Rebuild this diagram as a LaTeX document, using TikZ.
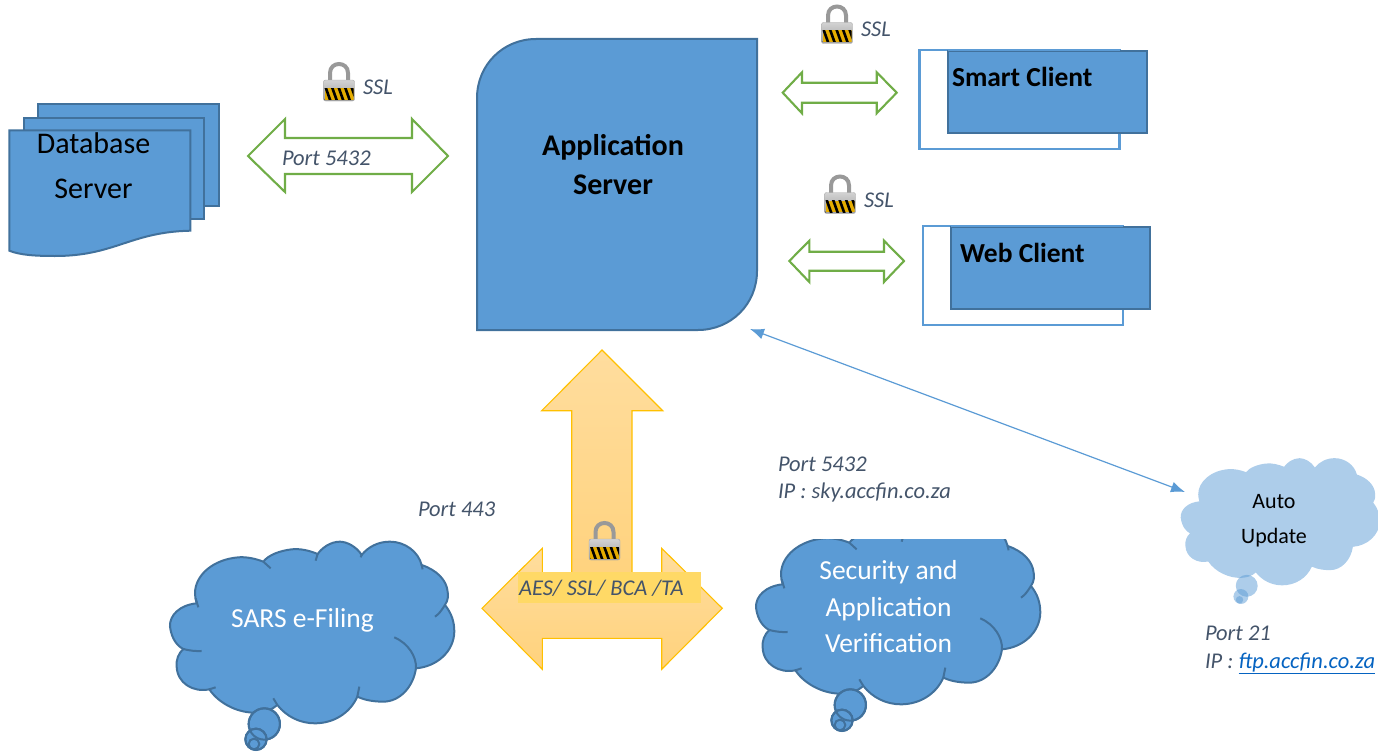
\documentclass[tikz,border=0pt]{standalone}
\usepackage{fontspec}
\setmainfont{Carlito}
\usetikzlibrary{arrows.meta}
\definecolor{boxblue}{HTML}{5B9BD5}
\definecolor{boxedge}{HTML}{41719C}
\definecolor{linkgreen}{HTML}{70AD47}
\definecolor{notegrey}{HTML}{44546A}
\definecolor{goldedge}{HTML}{FFC000}
\definecolor{goldtop}{HTML}{FFDD9E}
\definecolor{goldlow}{HTML}{FFD27C}
\definecolor{goldmark}{HTML}{FFD966}
\definecolor{linkblue}{HTML}{0563C1}
\tikzset{
  every node/.style={inner sep=0pt,outer sep=0pt},
  sheet/.style={draw=boxedge,fill=boxblue,line width=2pt},
  backbox/.style={draw=boxblue,fill=white,line width=2.2pt,minimum width=200pt,minimum height=99pt},
  frontbox/.style={draw=boxedge,fill=boxblue,line width=2.2pt,minimum width=199pt,minimum height=82pt},
  greenarrow/.style={draw=linkgreen,fill=white,line width=2.1pt,miter limit=10},
  goldarrow/.style={draw=goldedge,top color=goldtop,bottom color=goldlow,line width=1.1pt},
  note/.style={anchor=base west,text=notegrey,font=\fontsize{22.5}{27}\selectfont\itshape},
  clientname/.style={anchor=base west,font=\fontsize{27.5}{33}\selectfont\bfseries},
  darkcloud/.style={draw=boxedge,fill=boxblue,line width=2pt},
  palecloud/.style={fill=boxblue,fill opacity=.5,draw=none},
  thought/.pic={
    \path[pic actions] (140,250) .. controls (90,255) and (58,285) .. (60,320)
      .. controls (65,360) and (85,380) .. (100,387)
      .. controls (85,400) and (78,420) .. (80,440)
      .. controls (82,490) and (130,518) .. (178,508)
      .. controls (210,555) and (270,580) .. (320,578)
      .. controls (345,577) and (365,570) .. (382,555)
      .. controls (410,590) and (450,610) .. (495,610)
      .. controls (550,610) and (600,580) .. (622,530)
      .. controls (650,543) and (680,545) .. (700,545)
      .. controls (750,545) and (790,500) .. (798,445)
      .. controls (860,440) and (912,395) .. (913,335)
      .. controls (913,305) and (905,280) .. (885,255)
      .. controls (895,240) and (895,225) .. (893,215)
      .. controls (890,180) and (860,150) .. (815,135)
      .. controls (805,95) and (765,65) .. (720,65)
      .. controls (685,65) and (655,80) .. (635,105)
      .. controls (620,80) and (590,65) .. (570,65)
      .. controls (540,65) and (515,85) .. (503,102)
      .. controls (480,92) and (450,85) .. (425,88)
      .. controls (390,92) and (355,105) .. (340,125)
      .. controls (315,115) and (285,110) .. (265,112)
      .. controls (190,118) and (135,165) .. (135,220)
      .. controls (135,230) and (137,240) .. (140,250) -- cycle;
    \path[pic actions,fill=none] (137,235) -- (145,262);
    \path[pic actions,fill=none] (100,387) .. controls (118,392) and (138,394) .. (155,393);
    \path[pic actions,fill=none] (178,508) -- (197,502);
    \path[pic actions,fill=none] (382,555) -- (370,535);
    \path[pic actions,fill=none] (622,530) -- (628,500);
    \path[pic actions,fill=none] (798,445) .. controls (800,410) and (775,370) .. (733,352);
    \path[pic actions,fill=none] (885,255) .. controls (875,270) and (868,282) .. (855,290);
    \path[pic actions,fill=none] (815,135) -- (818,148);
    \path[pic actions,fill=none] (635,105) -- (632,112);
    \path[pic actions,fill=none] (503,102) -- (497,122);
    \path[pic actions,fill=none] (340,125) -- (362,145);
    \path[pic actions] (343,612) circle (47);
    \path[pic actions] (318,658) circle (32);
    \path[pic actions] (312,672) circle (16);
    \path[pic actions,fill=none] (343,612) circle (47);
    \path[pic actions,fill=none] (318,658) circle (32);
  },
  padlock/.pic={
    \draw[line width=4pt,gray!80] (-9,1) -- (-9,-9) .. controls (-9,-21) and (9,-21) .. (9,-9) -- (9,1);
    \draw[draw=gray!70,top color=gray!35,bottom color=gray!75,rounded corners=2pt] (-15.5,-2) rectangle (15.5,19);
    \begin{scope}
      \clip (-14.5,6) rectangle (14.5,17.5);
      \fill[goldedge!90!black] (-14.5,6) rectangle (14.5,17.5);
      \foreach \sx in {-20,-13.5,-7,-0.5,6,12.5}
        \draw[line width=2.6pt,black] (\sx,5) -- (\sx+5,19);
    \end{scope}
  },
}
\begin{document}
\begin{tikzpicture}[x=1pt,y=-1pt]
\useasboundingbox (0,0) rectangle (1378,752);
% database server
\draw[sheet] (38.3,104.3) rectangle (219.3,205.7);
\draw[sheet] (24.3,117.7) rectangle (204.3,218.7);
\draw[sheet] (9.3,130.3) -- (190.3,130.3) -- (190.3,230.7) .. controls (130,232) and (115,256) .. (55,256)
  .. controls (35,256) and (20,255) .. (9.3,250.7) -- cycle;
\node[anchor=base,font=\fontsize{30}{36}\selectfont] (dbone) at (93.5,153.5) {Database};
\node[anchor=base,font=\fontsize{30}{36}\selectfont] (dbtwo) at (93.5,198) {Server};
% link to the database
\draw[greenarrow] (248,156) -- (285,119) -- (285,138) -- (412,138) -- (412,119) -- (448,156)
  -- (412,192) -- (412,174) -- (285,174) -- (285,192) -- cycle;
\node[note] (dbport) at (282,165.7) {Port 5432};
\pic at (339,82) {padlock};
\node[note] (dbssl) at (363,94) {SSL};
% application server
\draw[draw=boxedge,fill=boxblue,line width=2pt] (477,98) .. controls (477,65) and (503,39) .. (536,39) -- (757,39)
  -- (757,271) .. controls (757,304) and (731,330) .. (698,330) -- (477,330) -- cycle;
\node[align=center,font=\fontsize{30}{39}\selectfont\bfseries] (app) at (613,165) {Application\\Server};
% clients
\node[backbox] (smartback) at (1019.5,99.7) {};
\node[frontbox] (smart) at (1047.8,91.8) {};
\draw[draw=boxblue,line width=2.2pt] (948.3,50) -- (1120,50);
\node[clientname] (smartname) at (952,86) {Smart Client};
\node[backbox] (webback) at (1022.7,275.3) {};
\node[frontbox] (web) at (1050.5,268.2) {};
\draw[draw=boxblue,line width=2.2pt] (951,225.7) -- (1122.7,225.7);
\node[clientname] (webname) at (960,262) {Web Client};
\draw[greenarrow] (782.7,92.7) -- (802,72.3) -- (802,82.7) -- (876.7,82.7) -- (876.7,72.3) -- (896.7,92.7)
  -- (876.7,113.3) -- (876.7,102.7) -- (802,102.7) -- (802,113.3) -- cycle;
\draw[greenarrow] (789.3,261) -- (809.3,240.7) -- (809.3,251.7) -- (884,251.7) -- (884,240.7) -- (904,261)
  -- (884,282) -- (884,270.7) -- (809.3,270.7) -- (809.3,282) -- cycle;
\pic at (837,24.5) {padlock};
\node[note] (smartssl) at (861,37) {SSL};
\pic at (840,194.5) {padlock};
\node[note] (webssl) at (864,207) {SSL};
% gold arrows
\draw[goldarrow] (602,350) -- (662.7,410.7) -- (632,410.7) -- (632,590) -- (571.7,590) -- (571.7,410.7) -- (541.7,410.7) -- cycle;
\draw[goldarrow] (482,608.3) -- (542.3,548.3) -- (542.3,578.3) -- (661.7,578.3) -- (661.7,548.3) -- (722.3,608.3)
  -- (661.7,669.3) -- (661.7,638.3) -- (542.3,638.3) -- (542.3,669.3) -- cycle;
\fill[goldmark] (517.7,572) rectangle (701,602.7);
\node[note] (ciphers) at (519,595.5) {AES/ SSL/ BCA /TA};
\pic at (604.5,541) {padlock};
% clouds
\pic[darkcloud,scale=.3333] at (150,520) {thought};
\node[text=white,font=\fontsize{27.5}{33}\selectfont,anchor=base] (sars) at (302.5,627) {SARS e-Filing};
\node[note] (sarsport) at (418,516.5) {Port 443};
\begin{scope}
  \clip (730,539) rectangle (1060,752);
  \pic[darkcloud,scale=.3333] at (736,501) {thought};
\end{scope}
\node[align=center,text=white,font=\fontsize{27.5}{36.5}\selectfont] (security) at (888.5,607) {Security and\\Application\\Verification};
\node[note,align=left,anchor=north west,font=\fontsize{22.5}{27}\selectfont\itshape] (skyport) at (778,457) {Port 5432\\IP : sky.accfin.co.za};
\pic[palecloud,scale=.2333] at (1166.7,443) {thought};
\node[align=center,font=\fontsize{22}{35}\selectfont] (auto) at (1274,521) {Auto\\Update};
\node[note,align=left,anchor=north west,font=\fontsize{22.5}{28}\selectfont\itshape] (ftpport) at (1205,626) {Port 21\\IP : \textcolor{linkblue}{\underline{ftp.accfin.co.za}}};
% update link
\coordinate (appcorner) at (750,329);
\coordinate (autoedge) at (1185,492);
\draw[draw=boxblue,line width=1.2pt,{Latex[length=14pt,width=11pt]}-{Latex[length=14pt,width=11pt]}] (appcorner) -- (autoedge);
\end{tikzpicture}
\end{document}
